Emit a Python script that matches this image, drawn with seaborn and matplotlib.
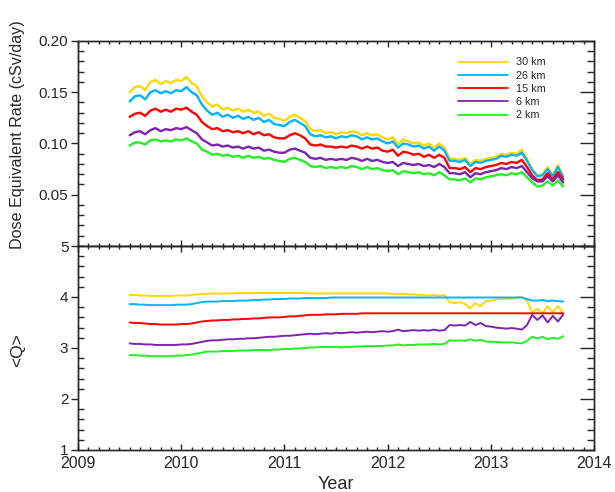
import matplotlib
matplotlib.use("Agg")
import matplotlib.pyplot as plt
from matplotlib.ticker import MultipleLocator
import seaborn as sns
import pandas as pd
import numpy as np

# time grid (decimal year), one value every 0.05 yr
years = np.round(np.arange(2009.50, 2013.70 + 0.001, 0.05), 2)

altitudes = ["30 km", "26 km", "15 km", "6 km", "2 km"]
colors = ["#FFD700", "#00B4FF", "#FF0000", "#7F22B0", "#22F022"]

# dose equivalent rate (cSv/day)
rate_30 = [.150, .155, .156, .152, .160, .162, .158, .161, .159, .162,
           .161, .165, .159, .156, .146, .140, .136, .138, .133, .135, .132, .134, .131, .133, .130, .131, .127, .129, .125, .124,
           .122, .126, .128, .125, .122, .114, .112, .113, .110, .111, .109, .111, .110, .112, .111, .108, .110, .108, .109, .106,
           .104, .106, .099, .104, .102, .100, .101, .098, .100, .096, .100, .096, .085, .085, .084, .086, .080, .084, .083, .085,
           .086, .087, .090, .089, .091, .090, .094, .085, .075, .069, .070, .077, .069, .079, .068]
rate_26 = [.141, .146, .147, .143, .150, .152, .149, .151, .149, .152,
           .151, .155, .150, .147, .138, .132, .128, .130, .126, .128, .125, .127, .124, .126, .123, .125, .121, .123, .119, .118,
           .117, .121, .123, .120, .117, .109, .107, .108, .106, .107, .105, .107, .106, .108, .107, .104, .106, .104, .105, .102,
           .100, .102, .096, .100, .099, .097, .098, .095, .097, .093, .097, .093, .083, .083, .082, .084, .078, .082, .081, .083,
           .084, .085, .088, .087, .089, .088, .091, .083, .074, .068, .069, .075, .068, .077, .067]
rate_15 = [.126, .129, .130, .127, .132, .134, .131, .133, .131, .134,
           .133, .135, .131, .128, .121, .117, .114, .115, .112, .113, .111, .112, .110, .112, .109, .111, .108, .109, .106, .105,
           .105, .108, .110, .108, .105, .099, .098, .099, .097, .097, .096, .097, .096, .098, .097, .095, .097, .095, .096, .093,
           .092, .094, .088, .092, .091, .089, .090, .087, .089, .086, .089, .086, .076, .076, .075, .077, .072, .076, .075, .077,
           .078, .079, .081, .080, .082, .081, .084, .077, .069, .064, .065, .071, .065, .072, .065]
rate_6 = [.108, .111, .112, .109, .113, .115, .112, .114, .113, .115,
          .114, .116, .113, .110, .104, .101, .098, .099, .097, .098, .096, .097, .095, .097, .095, .096, .093, .094, .092, .091,
          .091, .094, .095, .093, .091, .086, .085, .086, .084, .085, .084, .085, .084, .086, .085, .083, .085, .083, .084, .082,
          .081, .082, .078, .081, .080, .079, .080, .078, .079, .077, .080, .077, .071, .071, .070, .072, .067, .071, .070, .072,
          .073, .074, .076, .075, .077, .076, .078, .072, .066, .063, .063, .068, .063, .069, .062]
rate_2 = [.098, .101, .101, .099, .103, .104, .102, .103, .102, .104,
          .103, .105, .102, .100, .094, .092, .089, .090, .088, .089, .087, .088, .086, .088, .086, .087, .085, .086, .084, .083,
          .082, .085, .086, .084, .082, .078, .077, .078, .076, .077, .076, .077, .076, .078, .077, .075, .077, .075, .076, .074,
          .073, .074, .070, .073, .072, .071, .072, .070, .071, .069, .072, .069, .065, .065, .064, .066, .062, .066, .065, .067,
          .068, .069, .070, .069, .071, .070, .072, .067, .062, .058, .059, .063, .059, .064, .058]

# mean quality factor <Q>
q_30 = [4.04, 4.04, 4.03, 4.03, 4.02, 4.02, 4.02, 4.02, 4.02, 4.03,
        4.03, 4.03, 4.04, 4.05, 4.06, 4.06, 4.07, 4.07, 4.07, 4.07, 4.07, 4.08, 4.08, 4.08, 4.08, 4.08, 4.08, 4.08, 4.08, 4.08,
        4.08, 4.08, 4.08, 4.08, 4.08, 4.07, 4.07, 4.07, 4.07, 4.07, 4.07, 4.07, 4.07, 4.07, 4.07, 4.07, 4.07, 4.07, 4.07, 4.07,
        4.07, 4.06, 4.06, 4.06, 4.05, 4.05, 4.04, 4.04, 4.03, 4.04, 4.02, 4.04, 3.90, 3.88, 3.90, 3.86, 3.78, 3.88, 3.82, 3.92,
        3.93, 3.95, 3.96, 3.97, 3.96, 3.99, 4.00, 3.92, 3.70, 3.77, 3.68, 3.82, 3.70, 3.82, 3.68]
q_26 = [3.86, 3.86, 3.85, 3.85, 3.84, 3.84, 3.84, 3.84, 3.84, 3.85,
        3.85, 3.85, 3.86, 3.88, 3.90, 3.91, 3.91, 3.91, 3.92, 3.92, 3.92, 3.93, 3.93, 3.93, 3.94, 3.94, 3.95, 3.95, 3.96, 3.96,
        3.96, 3.97, 3.97, 3.97, 3.98, 3.98, 3.98, 3.98, 3.98, 3.99, 3.99, 3.99, 3.99, 3.99, 3.99, 3.99, 3.99, 3.99, 3.99, 3.99,
        3.99, 3.99, 3.99, 3.99, 3.99, 3.99, 3.99, 3.99, 3.99, 3.99, 3.99, 3.99, 3.99, 3.99, 3.99, 3.99, 3.99, 3.99, 3.99, 3.99,
        3.99, 3.99, 3.99, 3.99, 3.99, 3.99, 3.99, 3.96, 3.93, 3.93, 3.94, 3.92, 3.93, 3.92, 3.91]
q_15 = [3.50, 3.49, 3.49, 3.48, 3.47, 3.47, 3.46, 3.46, 3.46, 3.46,
        3.47, 3.47, 3.48, 3.50, 3.52, 3.53, 3.54, 3.54, 3.55, 3.55, 3.56, 3.56, 3.57, 3.57, 3.58, 3.58, 3.59, 3.60, 3.60, 3.60,
        3.61, 3.62, 3.62, 3.63, 3.64, 3.65, 3.65, 3.65, 3.66, 3.66, 3.66, 3.67, 3.67, 3.67, 3.67, 3.68, 3.68, 3.68, 3.68, 3.68,
        3.68, 3.68, 3.68, 3.68, 3.68, 3.68, 3.68, 3.68, 3.68, 3.68, 3.68, 3.68, 3.68, 3.68, 3.68, 3.68, 3.68, 3.68, 3.68, 3.68,
        3.68, 3.68, 3.68, 3.68, 3.68, 3.68, 3.68, 3.68, 3.68, 3.68, 3.68, 3.68, 3.68, 3.68, 3.68]
q_6 = [3.09, 3.08, 3.08, 3.07, 3.07, 3.06, 3.06, 3.06, 3.06, 3.06,
       3.07, 3.07, 3.08, 3.10, 3.12, 3.14, 3.15, 3.15, 3.16, 3.17, 3.17, 3.18, 3.18, 3.19, 3.19, 3.20, 3.21, 3.22, 3.22, 3.23,
       3.24, 3.24, 3.25, 3.26, 3.27, 3.28, 3.27, 3.28, 3.29, 3.28, 3.30, 3.29, 3.30, 3.31, 3.30, 3.31, 3.32, 3.31, 3.32, 3.33,
       3.32, 3.33, 3.36, 3.33, 3.34, 3.35, 3.34, 3.35, 3.34, 3.36, 3.34, 3.35, 3.45, 3.44, 3.45, 3.44, 3.51, 3.45, 3.49, 3.43,
       3.42, 3.40, 3.39, 3.38, 3.39, 3.38, 3.36, 3.45, 3.65, 3.55, 3.64, 3.50, 3.63, 3.52, 3.65]
q_2 = [2.86, 2.86, 2.85, 2.85, 2.84, 2.84, 2.84, 2.84, 2.84, 2.85,
       2.85, 2.86, 2.87, 2.89, 2.91, 2.93, 2.93, 2.93, 2.94, 2.94, 2.94, 2.95, 2.95, 2.95, 2.96, 2.96, 2.96, 2.96, 2.97, 2.97,
       2.98, 2.98, 2.99, 2.99, 3.00, 3.01, 3.01, 3.02, 3.02, 3.02, 3.02, 3.01, 3.02, 3.02, 3.03, 3.03, 3.04, 3.03, 3.04, 3.04,
       3.05, 3.05, 3.07, 3.05, 3.06, 3.06, 3.07, 3.07, 3.07, 3.08, 3.07, 3.08, 3.15, 3.14, 3.15, 3.14, 3.17, 3.14, 3.16, 3.13,
       3.12, 3.12, 3.11, 3.11, 3.11, 3.10, 3.09, 3.14, 3.22, 3.19, 3.22, 3.17, 3.20, 3.18, 3.23]

rates = [rate_30, rate_26, rate_15, rate_6, rate_2]
qs = [q_30, q_26, q_15, q_6, q_2]

rows = []
for alt, r, q in zip(altitudes, rates, qs):
    for yr, rv, qv in zip(years, r, q):
        rows.append({"Year": yr, "Altitude": alt, "Rate": rv, "Q": qv})
df = pd.DataFrame(rows)
palette = dict(zip(altitudes, colors))

sns.set_style("ticks")
plt.rcParams["font.family"] = ["Liberation Sans", "DejaVu Sans"]
plt.rcParams["axes.linewidth"] = 1.0

fig = plt.figure(figsize=(6.15, 4.92), dpi=100)
ax1 = fig.add_axes([0.127, 0.5, 0.839, 0.4167])
ax2 = fig.add_axes([0.127, 0.0854, 0.839, 0.4146], sharex=ax1)

sns.lineplot(data=df, x="Year", y="Rate", hue="Altitude", hue_order=altitudes,
             palette=palette, estimator=None, linewidth=1.7, ax=ax1)
sns.lineplot(data=df, x="Year", y="Q", hue="Altitude", hue_order=altitudes,
             palette=palette, estimator=None, linewidth=1.4, legend=False, ax=ax2)

ax1.set_xlim(2009, 2014)
ax1.set_ylim(0, 0.20)
ax2.set_ylim(1, 5)

ax1.yaxis.set_major_locator(MultipleLocator(0.05))
ax1.yaxis.set_minor_locator(MultipleLocator(0.01))
ax2.yaxis.set_major_locator(MultipleLocator(1))
ax2.yaxis.set_minor_locator(MultipleLocator(0.2))
ax2.xaxis.set_major_locator(MultipleLocator(1))
ax2.xaxis.set_minor_locator(MultipleLocator(0.1))
ax1.set_yticks([0.05, 0.10, 0.15, 0.20])
ax1.set_yticklabels(["0.05", "0.10", "0.15", "0.20"])

for ax in (ax1, ax2):
    ax.tick_params(axis="y", which="major", direction="out", length=5, width=1,
                   right=False, labelsize=11, pad=2)
    ax.tick_params(axis="y", which="minor", direction="in", length=4, width=1, right=False)
    ax.tick_params(axis="x", which="major", direction="in", length=4, width=1, top=True)
    ax.tick_params(axis="x", which="minor", direction="in", length=2.5, width=1, top=True)
    # right-hand ticks drawn longer and inward
    tw = ax.twinx()
    tw.set_ylim(ax.get_ylim())
    tw.yaxis.set_major_locator(MultipleLocator(1 if ax is ax2 else 0.05))
    tw.yaxis.set_minor_locator(MultipleLocator(0.2 if ax is ax2 else 0.01))
    tw.tick_params(axis="y", which="major", direction="in", length=10, width=1, labelright=False)
    tw.tick_params(axis="y", which="minor", direction="in", length=5, width=1)
    tw.set_ylabel("")

ax1.tick_params(axis="x", labelbottom=False)
ax2.tick_params(axis="x", labelsize=11.5, pad=4)

ax1.set_xlabel("")
ax1.set_ylabel("Dose Equivalent Rate (cSv/day)", fontsize=11.6)
ax2.set_ylabel("<Q>", fontsize=12.5)
ax2.set_xlabel("Year", fontsize=13, labelpad=4)
ax1.yaxis.set_label_coords(-0.102, 0.545)
ax2.yaxis.set_label_coords(-0.102, 0.49)

handles, labels = ax1.get_legend_handles_labels()
leg = ax1.legend(handles, labels, loc="upper left", bbox_to_anchor=(0.736, 0.92),
                 frameon=False, fontsize=7.8, handlelength=4.6, handletextpad=0.8,
                 labelspacing=0.3, borderpad=0, borderaxespad=0)
for line in leg.get_lines():
    line.set_linewidth(1.3)

fig.savefig("out.png", dpi=100)
